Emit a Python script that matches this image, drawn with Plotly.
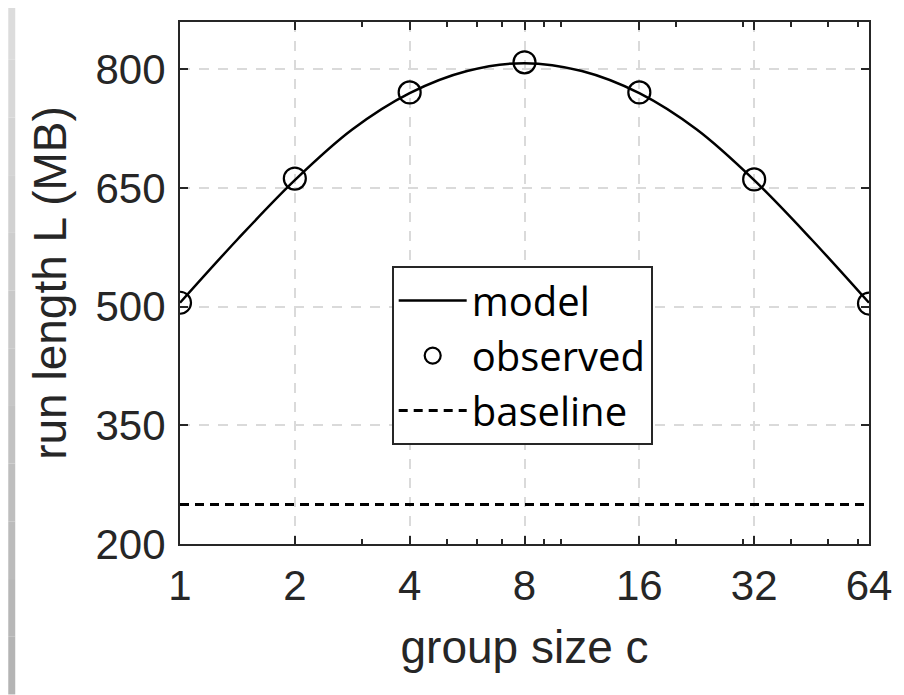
import plotly.graph_objects as go

# ---- data ----
group_sizes = [1, 2, 4, 8, 16, 32, 64]
tick_labels = ["1", "2", "4", "8", "16", "32", "64"]
observed = [505, 662, 771, 809, 771, 661, 504]

model_x = [1, 1.414, 2, 2.828, 4, 5.657, 8, 11.31, 16, 22.63, 32, 45.25, 64]
model_y = [505, 585, 660, 724, 770, 798, 808, 798, 770, 724, 660, 585, 505]

baseline_x = [1, 64]
baseline_y = [250, 250]

y_ticks = [200, 350, 500, 650, 800]
minor_x_ticks = [3, 5, 6, 7, 9, 10, 20, 30, 40, 50, 60]

AX = "#262626"
FONT = "Liberation Sans, Arial, sans-serif"

# page offset of the figure (default body margin) and figure size
OFF = 8
W, H = 904 - OFF, 695 - OFF
# plot area on screen: x 180..870, y 20..544
L = 180 - OFF
R = W - (870 - OFF)
T = 20 - OFF
B = H - (544 - OFF)
pw, ph = W - L - R, H - T - B


def px_x(screen_x):
    return (screen_x - OFF - L) / pw


def px_y(screen_y):
    return (H - B - (screen_y - OFF)) / ph


fig = go.Figure()

fig.add_trace(go.Scatter(
    x=model_x, y=model_y, mode="lines", name="model",
    line=dict(color="black", width=2.5, shape="spline", smoothing=1.0),
    legendgroup="a",
))
fig.add_trace(go.Scatter(
    x=group_sizes, y=observed, mode="markers", name="observed",
    marker=dict(symbol="circle-open", size=22, color="black",
                line=dict(width=2.2, color="black")),
    legendgroup="b",
))
fig.add_trace(go.Scatter(
    x=baseline_x, y=baseline_y, mode="lines", name="baseline",
    line=dict(color="black", width=3, dash="9px,6px"),
    legendgroup="c",
))

# decorative grey strip on the left edge
shapes = []
nseg = 12
for i in range(nseg):
    y0 = 695 * i / nseg
    y1 = 695 * (i + 1) / nseg
    g = int(0xdc - (0xdc - 0xb4) * (i / (nseg - 1)))
    col = "#%02x%02x%02x" % (g, g, g)
    shapes.append(dict(type="rect", xref="paper", yref="paper",
                       x0=px_x(OFF), x1=px_x(15), y0=px_y(y1), y1=px_y(y0),
                       fillcolor=col, line=dict(width=0), layer="below"))

fig.update_layout(
    width=W, height=H,
    margin=dict(l=L, r=R, t=T, b=B, pad=0),
    paper_bgcolor="white", plot_bgcolor="white",
    shapes=shapes,
    showlegend=True,
    legend=dict(
        x=px_x(392), y=px_y(265), xanchor="left", yanchor="top",
        bgcolor="white", bordercolor=AX, borderwidth=2,
        font=dict(family="Open Sans, sans-serif", size=40, color="black"),
        itemwidth=68, tracegroupgap=0, traceorder="normal",
    ),
    xaxis=dict(
        type="log", range=[0, 1.80618],
        tickmode="array", tickvals=group_sizes, ticktext=tick_labels,
        ticks="inside", ticklen=8, tickwidth=2, tickcolor=AX,
        showline=True, linecolor=AX, linewidth=2, mirror="ticks",
        showgrid=True, gridcolor="#dadada", gridwidth=2, griddash="10px,9px",
        minor=dict(tickvals=minor_x_ticks, ticks="inside", ticklen=5,
                   tickwidth=2, tickcolor=AX, showgrid=False),
        tickfont=dict(family=FONT, size=42, color=AX),
        ticklabelstandoff=4,
        title=dict(text="group size c", font=dict(family=FONT, size=46, color=AX),
                   standoff=22),
        zeroline=False,
    ),
    yaxis=dict(
        range=[200, 860],
        tickmode="array", tickvals=y_ticks,
        ticks="inside", ticklen=8, tickwidth=2, tickcolor=AX,
        showline=True, linecolor=AX, linewidth=2, mirror="ticks",
        showgrid=True, gridcolor="#dadada", gridwidth=2, griddash="10px,9px",
        tickfont=dict(family=FONT, size=42, color=AX),
        ticklabelstandoff=4,
        title=dict(text="run length L (MB)", font=dict(family=FONT, size=46, color=AX),
                   standoff=14),
        zeroline=False,
    ),
)

fig.write_html("out.html")
